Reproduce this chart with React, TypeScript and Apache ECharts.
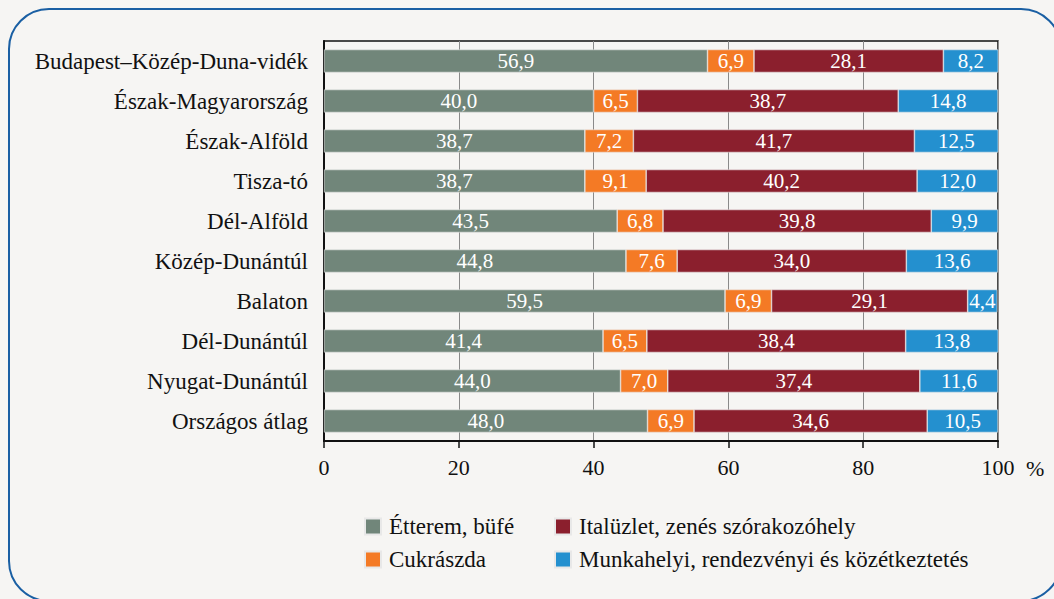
import React, { useEffect, useRef } from "react";
import * as echarts from "echarts";

const categories = [
  "Budapest–Közép-Duna-vidék",
  "Észak-Magyarország",
  "Észak-Alföld",
  "Tisza-tó",
  "Dél-Alföld",
  "Közép-Dunántúl",
  "Balaton",
  "Dél-Dunántúl",
  "Nyugat-Dunántúl",
  "Országos átlag",
];
const etterem = [56.9, 40.0, 38.7, 38.7, 43.5, 44.8, 59.5, 41.4, 44.0, 48.0];
const cukraszda = [6.9, 6.5, 7.2, 9.1, 6.8, 7.6, 6.9, 6.5, 7.0, 6.9];
const italuzlet = [28.1, 38.7, 41.7, 40.2, 39.8, 34.0, 29.1, 38.4, 37.4, 34.6];
const munkahelyi = [8.2, 14.8, 12.5, 12.0, 9.9, 13.6, 4.4, 13.8, 11.6, 10.5];
const seriesNames = [
  "Étterem, büfé",
  "Cukrászda",
  "Italüzlet, zenés szórakozóhely",
  "Munkahelyi, rendezvényi és közétkeztetés",
];
const xTicks = [0, 20, 40, 60, 80, 100];

const colors = ["#71867a", "#f47a25", "#8b1f2d", "#2490cf"];
const FONT = "Liberation Serif, DejaVu Serif, serif";

export default function App() {
  const ref = useRef<HTMLDivElement>(null);
  useEffect(() => {
    if (!ref.current) return;
    const chart = echarts.init(ref.current, null, { renderer: "svg" });
    const values = [etterem, cukraszda, italuzlet, munkahelyi];
    const legendBase = {
      orient: "vertical",
      top: 510,
      itemWidth: 16,
      itemHeight: 16,
      itemGap: 10,
      icon: "rect",
      textStyle: { color: "#111", fontSize: 23, fontFamily: FONT, padding: [0, 0, 0, 3] },
    };
    chart.setOption({
      animation: false,
      backgroundColor: "#f6f5f3",
      textStyle: { fontFamily: FONT },
      grid: {
        left: 324,
        right: 56,
        top: 41,
        bottom: 158,
        show: true,
        borderColor: "#111",
        borderWidth: 1.5,
        backgroundColor: "transparent",
      },
      xAxis: {
        type: "value",
        min: xTicks[0],
        max: xTicks[xTicks.length - 1],
        interval: 20,
        axisLine: { show: true, lineStyle: { color: "#111", width: 2 } },
        axisTick: { show: true, length: 7, lineStyle: { color: "#111", width: 1.5 } },
        splitLine: { show: true, lineStyle: { color: "#8a8a8a", width: 1 } },
        axisLabel: { color: "#111", fontSize: 22, margin: 15, fontFamily: FONT },
      },
      yAxis: {
        type: "category",
        data: categories,
        inverse: true,
        axisLine: { show: true, lineStyle: { color: "#111", width: 2 } },
        axisTick: { show: false },
        axisLabel: { color: "#111", fontSize: 23, margin: 16, fontFamily: FONT },
      },
      legend: [
        { ...legendBase, data: [seriesNames[0], seriesNames[1]], left: 359 },
        { ...legendBase, data: [seriesNames[2], seriesNames[3]], left: 549 },
      ],
      graphic: [
        {
          type: "rect",
          shape: { x: 9, y: 9, width: 1052, height: 592, r: 40 },
          style: { fill: "none", stroke: "#1a5fa3", lineWidth: 2 },
          silent: true,
          z: -1,
        },
        {
          type: "text",
          x: 1026,
          y: 468,
          style: {
            text: "%",
            fill: "#111",
            font: `22px ${FONT}`,
            verticalAlign: "middle",
          },
        },
      ],
      series: values.map((v, i) => ({
        name: seriesNames[i],
        type: "bar",
        stack: "total",
        data: v,
        barWidth: 23,
        itemStyle: { color: colors[i], borderColor: "#e8e8e8", borderWidth: 0.6 },
        label: {
          show: true,
          position: "inside",
          color: "#fff",
          fontSize: 21,
          fontFamily: FONT,
          formatter: (p: any) => p.value.toFixed(1).replace(".", ","),
        },
      })),
    });
    return () => chart.dispose();
  }, []);
  return <div ref={ref} style={{ width: 1054, height: 599, position: "absolute", left: 0, top: 0 }} />;
}
